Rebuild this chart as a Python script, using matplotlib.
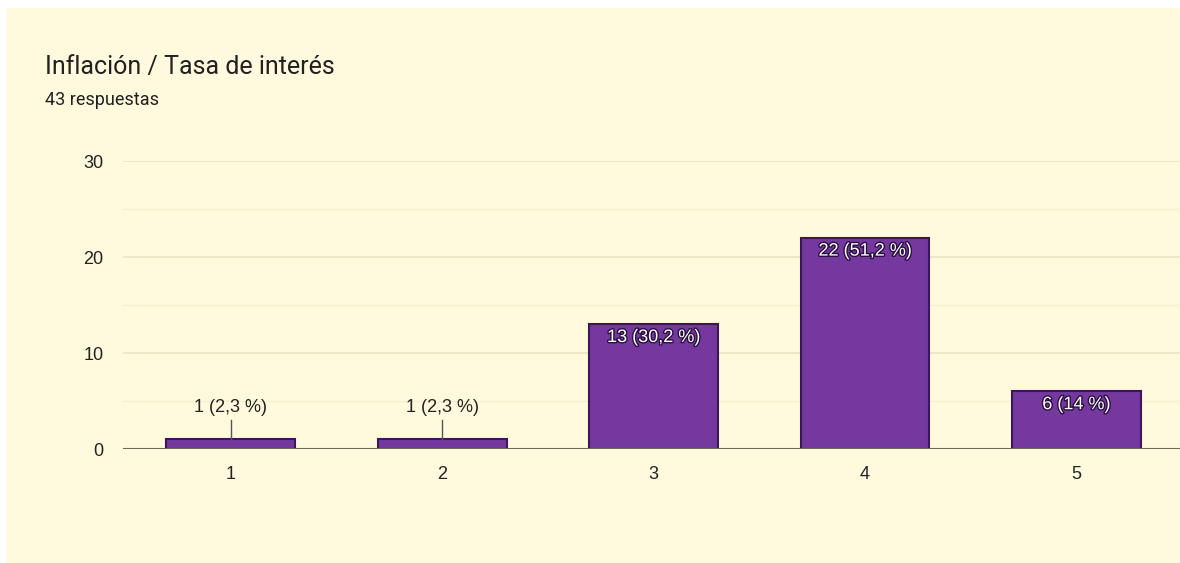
import matplotlib.pyplot as plt
import matplotlib.patheffects as pe

categories = ['1', '2', '3', '4', '5']
counts = [1, 1, 13, 22, 6]
labels = ['1 (2,3 %)', '1 (2,3 %)', '13 (30,2 %)', '22 (51,2 %)', '6 (14 %)']

title = 'Inflación / Tasa de interés'
subtitle = '43 respuestas'

bg = '#fffadd'
bar_color = '#74389e'
edge_color = '#3b1758'
axis_font = ['Liberation Sans', 'DejaVu Sans']

plt.rcParams['font.family'] = ['Roboto', 'DejaVu Sans']

fig = plt.figure(figsize=(11.8, 5.63), dpi=100)
fig.patch.set_facecolor('white')
# cream card behind the chart
card = plt.Rectangle((7 / 1180, 0), 1, 1 - 8 / 563, transform=fig.transFigure,
                     facecolor=bg, edgecolor='none', zorder=-10)
fig.patches.append(card)

ax = fig.add_axes([123 / 1180, 1 - 449 / 563, 1 - 123 / 1180, 288 / 563])
ax.set_zorder(5)
ax.set_facecolor(bg)

x = list(range(1, len(categories) + 1))
ax.bar(x, counts, width=0.61, color=bar_color, edgecolor=edge_color,
       linewidth=1.5, zorder=3)

ax.set_xlim(0.49, 5.49)
ax.set_ylim(0, 30)
ax.set_yticks([0, 10, 20, 30])
ax.set_yticks([5, 15, 25], minor=True)
ax.set_xticks(x)
ax.set_xticklabels(categories)
ax.grid(axis='y', which='major', color='#ece3c4', linewidth=1.2, zorder=0)
ax.grid(axis='y', which='minor', color='#f5eecf', linewidth=1, zorder=0)
ax.axhline(0, color='#6f6a55', linewidth=1.5, zorder=4)
for s in ax.spines.values():
    s.set_visible(False)
ax.tick_params(axis='both', which='both', length=0, labelsize=13, colors='#222222')
ax.tick_params(axis='y', pad=14)
ax.tick_params(axis='x', pad=12)
for t in ax.get_xticklabels() + ax.get_yticklabels():
    t.set_family(axis_font)

for xi, c, lab in zip(x, counts, labels):
    if c >= 5:
        ax.text(xi, c - 0.5, lab, ha='center', va='top', color='white',
                fontsize=13, zorder=5, family=axis_font,
                path_effects=[pe.withStroke(linewidth=2, foreground='#2a1040')])
    else:
        ax.plot([xi, xi], [c, c + 2], color='#555555', linewidth=1, zorder=4)
        ax.text(xi, c + 2.4, lab, ha='center', va='bottom', color='#222222',
                fontsize=13, zorder=5, family=axis_font)

fig.text(45 / 1180, 1 - 67 / 563, title, fontsize=18, color='#212121',
         va='center', ha='left')
fig.text(45 / 1180, 1 - 100 / 563, subtitle, fontsize=13, color='#212121',
         va='center', ha='left')

fig.savefig('out.png', dpi=100, facecolor=fig.get_facecolor())
